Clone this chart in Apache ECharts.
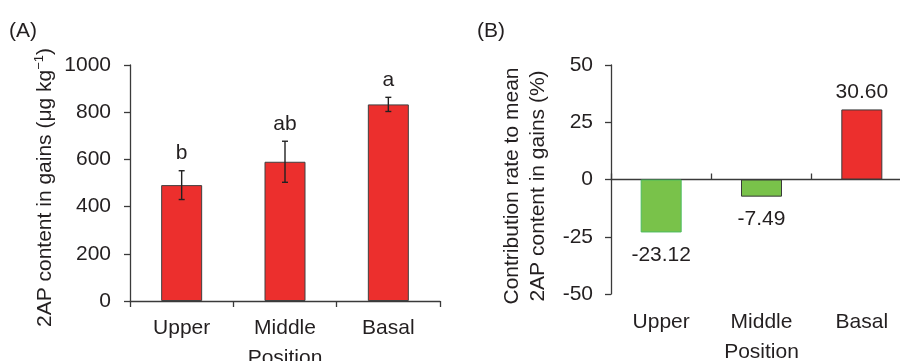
<!DOCTYPE html>
<html>
<head>
<meta charset="utf-8">
<script src="https://cdn.jsdelivr.net/npm/echarts@6/dist/echarts.min.js"></script>
<style>
html,body{margin:0;padding:0;background:#fff;}
#c{width:900px;height:361px;}
</style>
</head>
<body>
<div id="c"></div>
<script>
const categories = ['Upper', 'Middle', 'Basal'];
const contentMean = [491, 590, 833];
const contentErr = [61, 87, 30];
const sigLetters = ['b', 'ab', 'a'];
const contribution = [-23.12, -7.49, 30.60];

const FONT = '"Liberation Sans", Arial, sans-serif';
const FS = 21;
const TXT = '#231f20';
const AX = '#3a3a3a';
const RED = '#ec2f2d';
const GREEN = '#79c24a';

const chart = echarts.init(document.getElementById('c'), null, {renderer: 'canvas'});

const errData = categories.map((c, i) => [i, contentMean[i], contentErr[i]]);

const option = {
  animation: false,
  textStyle: {fontFamily: FONT, color: TXT},
  title: [
    {text: '(A)', left: 9, top: 21, textStyle: {fontFamily: FONT, fontSize: FS, fontWeight: 'normal', color: TXT}, padding: 0},
    {text: '(B)', left: 477, top: 21, textStyle: {fontFamily: FONT, fontSize: FS, fontWeight: 'normal', color: TXT}, padding: 0}
  ],
  grid: [
    {left: 130, top: 65, width: 310, height: 236, containLabel: false, outerBoundsMode: 'none'},
    {left: 611, top: 65, width: 301, height: 229, containLabel: false, outerBoundsMode: 'none'}
  ],
  xAxis: [
    {
      gridIndex: 0, type: 'category', data: categories,
      axisLine: {lineStyle: {color: AX, width: 1.3}},
      axisTick: {show: true, length: 6, lineStyle: {color: AX, width: 1.3}},
      axisLabel: {fontSize: FS, color: TXT, margin: 17, fontFamily: FONT},
      name: 'Position', nameLocation: 'middle', nameGap: 47,
      nameTextStyle: {fontSize: FS, color: TXT, fontFamily: FONT}
    },
    {
      gridIndex: 1, type: 'category', data: categories,
      axisLine: {onZero: true, lineStyle: {color: AX, width: 1.3}},
      axisTick: {show: true, inside: true, length: 6, lineStyle: {color: AX, width: 1.3}},
      axisLabel: {show: false}
    },
    {
      gridIndex: 1, type: 'category', data: categories, position: 'bottom',
      axisLine: {show: false, onZero: false},
      axisTick: {show: false},
      axisLabel: {fontSize: FS, color: TXT, margin: 18, fontFamily: FONT},
      name: 'Position', nameLocation: 'middle', nameGap: 48,
      nameTextStyle: {fontSize: FS, color: TXT, fontFamily: FONT}
    }
  ],
  yAxis: [
    {
      gridIndex: 0, type: 'value', min: 0, max: 1000, interval: 200,
      axisLine: {show: true, lineStyle: {color: AX, width: 1.3}},
      axisTick: {show: true, length: 6, lineStyle: {color: AX, width: 1.3}},
      splitLine: {show: false},
      axisLabel: {fontSize: FS, color: TXT, margin: 19, fontFamily: FONT, formatter: v => String(v)},
      name: '{n|2AP content in gains (μg kg}{s|−1}{n|)}',
      nameLocation: 'middle', nameGap: 72, nameRotate: 90,
      nameTextStyle: {
        fontSize: FS, color: TXT, fontFamily: FONT, padding: [0, 9, 0, 0],
        rich: {
          n: {fontSize: FS, color: TXT, fontFamily: FONT, lineHeight: 25},
          s: {fontSize: 13, color: TXT, fontFamily: FONT, lineHeight: 25, verticalAlign: 'top', padding: [0, 0, 10, 0]}
        }
      }
    },
    {
      gridIndex: 1, type: 'value', min: -50, max: 50, interval: 25,
      axisLine: {show: true, lineStyle: {color: AX, width: 1.3}},
      axisTick: {show: true, length: 6, lineStyle: {color: AX, width: 1.3}},
      splitLine: {show: false},
      axisLabel: {fontSize: FS, color: TXT, margin: 18, fontFamily: FONT},
      name: 'Contribution rate to mean\n2AP content in gains (%)',
      nameLocation: 'middle', nameGap: 60, nameRotate: 90,
      nameTextStyle: {fontSize: FS, color: TXT, fontFamily: FONT, lineHeight: 26, padding: [0, 13, 0, 0]}
    }
  ],
  series: [
    {
      type: 'bar', xAxisIndex: 0, yAxisIndex: 0, data: contentMean, barWidth: 41,
      itemStyle: {color: RED, borderColor: '#404040', borderWidth: 1}
    },
    {
      type: 'custom', xAxisIndex: 0, yAxisIndex: 0, data: errData, z: 10,
      renderItem: function (params, api) {
        const x = api.value(0), m = api.value(1), e = api.value(2);
        const top = api.coord([x, m + e]);
        const bot = api.coord([x, m - e]);
        const hw = 3;
        const st = {stroke: '#222', lineWidth: 1.4};
        return {
          type: 'group',
          children: [
            {type: 'line', shape: {x1: top[0], y1: top[1], x2: bot[0], y2: bot[1]}, style: st},
            {type: 'line', shape: {x1: top[0] - hw, y1: top[1], x2: top[0] + hw, y2: top[1]}, style: st},
            {type: 'line', shape: {x1: bot[0] - hw, y1: bot[1], x2: bot[0] + hw, y2: bot[1]}, style: st},
            {type: 'text', x: top[0], y: top[1] - 7, style: {text: sigLetters[params.dataIndex], fontSize: FS, fontFamily: FONT, fill: TXT, align: 'center', verticalAlign: 'bottom'}}
          ]
        };
      }
    },
    {
      type: 'bar', xAxisIndex: 1, yAxisIndex: 1, barWidth: 41,
      data: contribution.map((v, i) => ({
        value: v,
        itemStyle: {
          color: v < 0 ? GREEN : RED,
          borderColor: (i === 0) ? '#4dbb5f' : '#3a3a3a'
        },
        label: v < 0 ? {position: 'bottom', distance: 12} : {position: 'top', distance: 7}
      })),
      itemStyle: {borderWidth: 1},
      label: {
        show: true, fontSize: FS, color: TXT, fontFamily: FONT,
        formatter: p => p.value.toFixed(2)
      }
    }
  ]
};
chart.setOption(option);
</script>
</body>
</html>
